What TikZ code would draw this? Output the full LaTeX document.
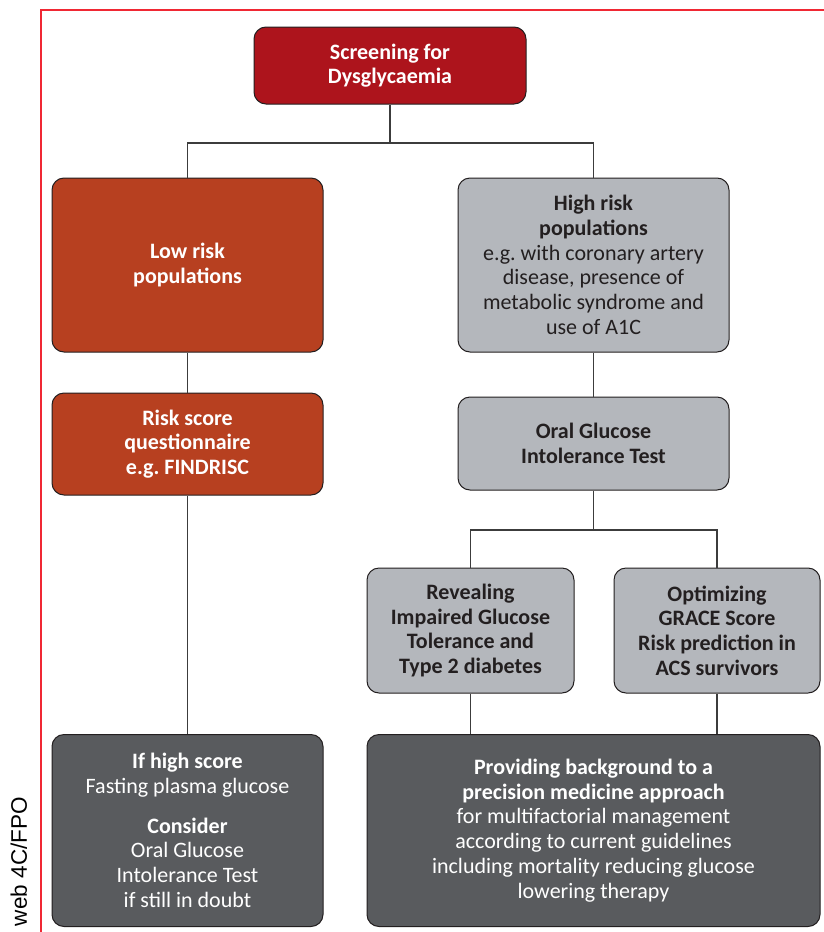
\documentclass[tikz,border=0pt]{standalone}
\usepackage{fontspec}
\setmainfont{Carlito}
\newfontfamily\fpofont{Liberation Sans}
\usetikzlibrary{calc}
\frenchspacing

\definecolor{screenred}{RGB}{173,20,28}
\definecolor{lowred}{RGB}{183,64,32}
\definecolor{highgrey}{RGB}{180,183,188}
\definecolor{outgrey}{RGB}{89,91,94}
\definecolor{edgegrey}{RGB}{35,31,32}
\definecolor{linegrey}{RGB}{60,60,60}
\definecolor{fpored}{RGB}{240,40,52}

\newcommand{\boxfont}{\fontsize{22}{24.7}\selectfont}

\begin{document}
\begin{tikzpicture}[
    x=1pt, y=-1pt,
    box/.style={rectangle, rounded corners=12pt, draw=edgegrey, line width=1pt, inner sep=0pt, align=center, font=\boxfont},
    screen/.style={box, fill=screenred, text=white, font=\boxfont\bfseries},
    lowrisk/.style={box, fill=lowred, text=white, font=\boxfont\bfseries},
    highrisk/.style={box, fill=highgrey, text=edgegrey},
    outcome/.style={box, fill=outgrey, text=white},
    link/.style={draw=linegrey, line width=1.2pt}
]
\useasboundingbox (0,0) rectangle (824,932);

% FPO frame and mark
\draw[fpored, line width=1.5pt] (41,940) -- (41,10) -- (830,10);
\node[rotate=90, anchor=base east, inner sep=0pt, font=\fpofont\fontsize{22.5}{22.5}\selectfont] (fpo) at (27,797) {web 4C/FPO};

% Screening
\node[screen, minimum width=272pt, minimum height=77pt] (screen) at (390,65.5) {Screening for\\Dysglycaemia};

% Low risk branch
\node[lowrisk, minimum width=271pt, minimum height=174pt] (low) at (187.5,265) {Low risk\\populations};
\node[lowrisk, minimum width=271pt, minimum height=102pt] (score) at (187.5,444) {Risk score\\questionnaire\\e.g. FINDRISC};
\node[outcome, minimum width=271pt, minimum height=192pt] (doubt) at (187.5,830.5) {\textbf{If high score}\\Fasting plasma glucose\\[15pt]\textbf{Consider}\\Oral Glucose\\Intolerance Test\\if still in doubt};

% High risk branch
\node[highrisk, minimum width=271pt, minimum height=174pt] (high) at (593.5,265) {\textbf{High risk}\\\textbf{populations}\\e.g. with coronary artery\\disease, presence of\\metabolic syndrome and\\use of A1C};
\node[highrisk, minimum width=271pt, minimum height=93pt, font=\boxfont\bfseries] (ogtt) at (593.5,443.5) {Oral Glucose\\Intolerance Test};
\node[highrisk, minimum width=207pt, minimum height=125pt, font=\boxfont\bfseries] (reveal) at (470.5,630.5) {Revealing\\Impaired Glucose\\Tolerance and\\Type 2 diabetes};
\node[highrisk, minimum width=206pt, minimum height=125pt, font=\boxfont\bfseries] (grace) at (717,630.5) {Optimizing\\GRACE Score\\Risk prediction in\\ACS survivors};
\node[outcome, minimum width=453pt, minimum height=192pt] (precision) at (593.5,830.5) {\textbf{Providing background to a}\\\textbf{precision medicine approach}\\for multifactorial management\\according to current guidelines\\including mortality reducing glucose\\lowering therapy};

% Connectors
\coordinate (split) at (390,143);
\draw[link] (screen.south) -- (split);
\draw[link] (low.north) |- (split) -| (high.north);
\draw[link] (low) -- (score);
\draw[link] (score) -- (doubt);
\draw[link] (high) -- (ogtt);
\coordinate (ogttsplit) at (593.5,530);
\draw[link] (ogtt.south) -- (ogttsplit);
\draw[link] (reveal.north) |- (ogttsplit) -| (grace.north);
\draw[link] (reveal.south) -- (reveal.south |- precision.north);
\draw[link] (grace.south) -- (grace.south |- precision.north);

\end{tikzpicture}
\end{document}
